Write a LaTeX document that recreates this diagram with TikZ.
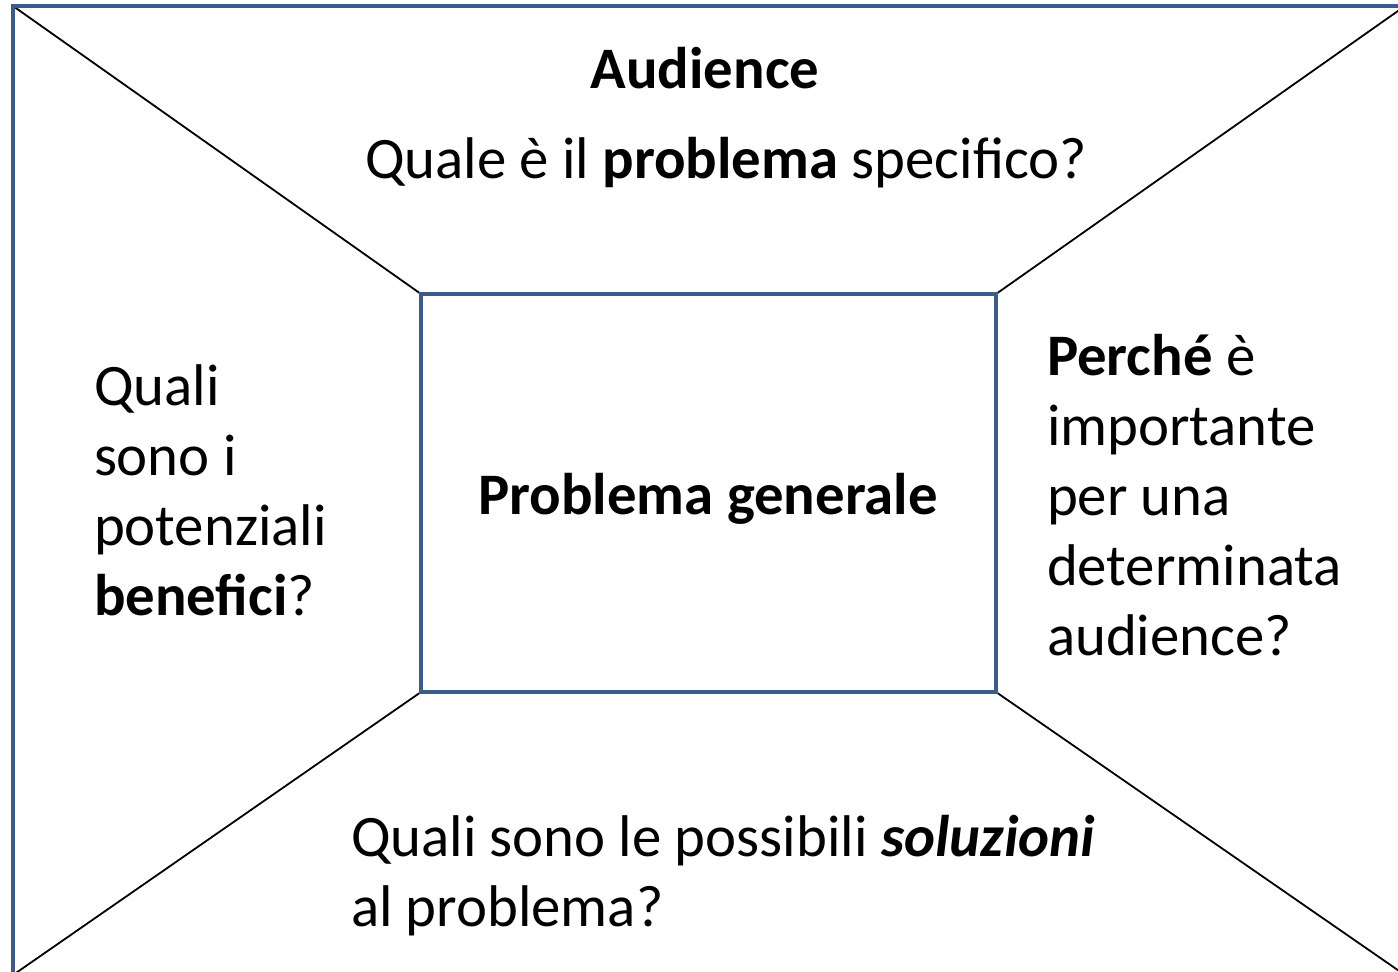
\documentclass[tikz,border=0pt]{standalone}
\usepackage{fontspec}
\setmainfont{Carlito}
\definecolor{frameblue}{RGB}{59,92,138}
\begin{document}
\begin{tikzpicture}[x=0.5pt,y=-0.5pt,
  frame/.style={draw=frameblue,line width=2.4pt},
  diag/.style={draw=black,line width=0.9pt},
  txt/.style={inner sep=0pt,outer sep=0pt,font=\fontsize{29.4}{35}\selectfont,align=left}]
\useasboundingbox (0,0) rectangle (1398,971);
\clip (0,0) rectangle (1398,971);
\fill[white] (0,0) rectangle (1398,971);
% outer frame corners
\coordinate (o1) at (13,6);
\coordinate (o2) at (1405,6);
\coordinate (o3) at (1405,975);
\coordinate (o4) at (13,975);
% inner box corners
\coordinate (i1) at (421,294);
\coordinate (i2) at (996,294);
\coordinate (i3) at (996,692);
\coordinate (i4) at (421,692);
\draw[diag] (o1) -- (i1);
\draw[diag] (o2) -- (i2);
\draw[diag] (o3) -- (i3);
\draw[diag] (o4) -- (i4);
\draw[frame] (o1) -- (o2) -- (o3) -- (o4) -- cycle;
\draw[frame] (i1) -- (i2) -- (i3) -- (i4) -- cycle;
% texts
\node[txt,anchor=base] (aud) at (705,88) {\bfseries Audience};
\node[txt,anchor=base] (spec) at (726,178) {Quale è il \textbf{problema} specifico?};
\node[txt,anchor=base] (gen) at (708,514) {\bfseries Problema generale};
\node[txt,anchor=base west] (ben) at (94,615) {Quali\\sono i\\potenziali\\\textbf{benefici}?};
\node[txt,anchor=base west] (perche) at (1047,655) {\textbf{Perché} è\\importante\\per una\\determinata\\audience?};
\node[txt,anchor=base west] (sol) at (351,926) {Quali sono le possibili \textbf{\textit{soluzioni}}\\al problema?};
\end{tikzpicture}
\end{document}
